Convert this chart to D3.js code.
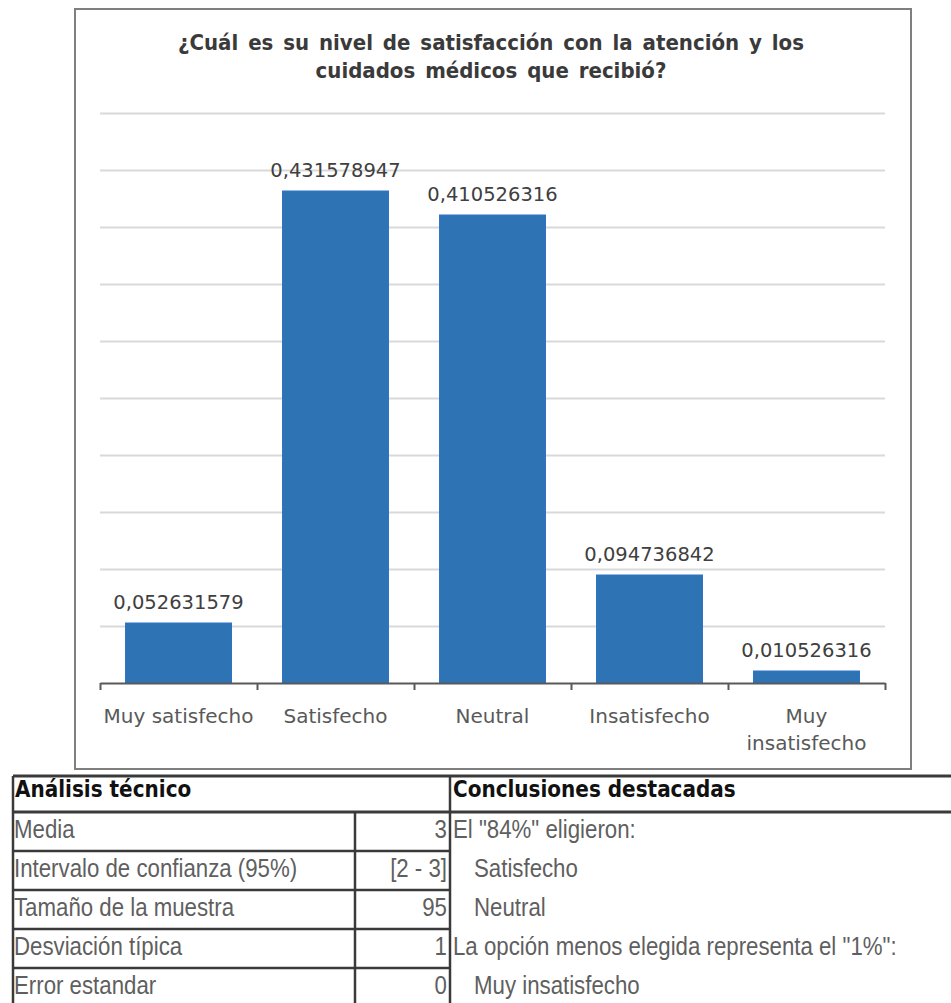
<!DOCTYPE html>
<html><head><meta charset="utf-8">
<script src="https://cdn.jsdelivr.net/npm/d3@7/dist/d3.min.js"></script>
<style>
html,body{margin:0;padding:0;background:#fff;}
svg{display:block;}
</style></head>
<body>
<svg id="c" width="951" height="1003"></svg>
<script>
// ---- data ----
const title = ["¿Cuál es su nivel de satisfacción con la atención y los", "cuidados médicos que recibió?"];
const categories = ["Muy satisfecho", "Satisfecho", "Neutral", "Insatisfecho", "Muy insatisfecho"];
const values = [0.052631579, 0.431578947, 0.410526316, 0.094736842, 0.010526316];
const yMax = 0.5;
const yStep = 0.05;

const techHeader = "Análisis técnico";
const techLabels = ["Media", "Intervalo de confianza (95%)", "Tamaño de la muestra", "Desviación típica", "Error estandar"];
const techValues = ["3", "[2 - 3]", "95", "1", "0"];
const conclHeader = "Conclusiones destacadas";
const conclLines = ["El \"84%\" eligieron:", "Satisfecho", "Neutral", "La opción menos elegida representa el \"1%\":", "Muy insatisfecho"];
const conclIndent = [false, true, true, false, true];

// ---- layout ----
const svg = d3.select("#c");
const plot = {left: 100, right: 885, top: 113, bottom: 683};

svg.append("rect").attr("x", 75).attr("y", 9).attr("width", 836).attr("height", 760)
  .attr("fill", "#fff").attr("stroke", "#7f7f7f").attr("stroke-width", 2);

const x = d3.scaleBand().domain(categories).range([plot.left, plot.right])
  .paddingInner(0.325).paddingOuter(0.1625);
const y = d3.scaleLinear().domain([0, yMax]).range([plot.bottom, plot.top]);

// title
const titleFont = "'DejaVu Sans Condensed', 'DejaVu Sans', sans-serif";
svg.append("g").selectAll("text").data(title).join("text")
  .attr("x", 491).attr("y", (d, i) => 50 + i * 28)
  .attr("text-anchor", "middle")
  .style("font-family", titleFont).style("font-stretch", "condensed")
  .style("font-weight", "bold").style("font-size", "22px").style("word-spacing", "3px")
  .attr("fill", "#3a3a3a").text(d => d);

// gridlines
const ticks = d3.range(1, Math.round(yMax / yStep) + 1).map(i => i * yStep);
svg.append("g").selectAll("line").data(ticks).join("line")
  .attr("x1", plot.left).attr("x2", plot.right)
  .attr("y1", d => Math.round(y(d)) + 0.5).attr("y2", d => Math.round(y(d)) + 0.5)
  .attr("stroke", "#d9d9d9").attr("stroke-width", 2);

// bars
svg.append("g").selectAll("rect").data(values).join("rect")
  .attr("x", (d, i) => x(categories[i]))
  .attr("width", x.bandwidth())
  .attr("y", d => y(d))
  .attr("height", d => y(0) - y(d))
  .attr("fill", "#2e74b5").attr("stroke", "#2f73c6").attr("stroke-width", 1);

// data labels
svg.append("g").selectAll("text").data(values).join("text")
  .attr("x", (d, i) => x(categories[i]) + x.bandwidth() / 2)
  .attr("y", d => y(d) - 14)
  .attr("text-anchor", "middle")
  .style("font-family", "'DejaVu Sans', sans-serif").style("font-size", "19.5px")
  .attr("fill", "#404040")
  .text(d => String(d).replace(".", ","));

// axis with boundary tick marks
const bx = d3.scaleLinear().domain([0, categories.length]).range([plot.left, plot.right]);
const axis = svg.append("g").attr("transform", `translate(0,${plot.bottom})`)
  .call(d3.axisBottom(bx).tickValues(d3.range(0, categories.length + 1)).tickFormat("").tickSize(7).tickSizeOuter(0));
axis.select(".domain").attr("stroke", "#595959").attr("stroke-width", 2);
axis.selectAll(".tick line").attr("stroke", "#595959").attr("stroke-width", 2);

// category labels (wrapped)
const catG = svg.append("g");
categories.forEach(c => {
  const t = catG.append("text").attr("text-anchor", "middle")
    .style("font-family", "'DejaVu Sans', sans-serif").style("font-size", "20px")
    .attr("fill", "#595959");
  const cx = x(c) + x.bandwidth() / 2;
  t.text(c);
  const w = t.node().getComputedTextLength();
  if (w > x.step()) {
    const words = c.split(" ");
    t.text(null);
    t.append("tspan").attr("x", cx).attr("y", 723).text(words[0]);
    t.append("tspan").attr("x", cx).attr("y", 750).text(words.slice(1).join(" "));
  } else {
    t.attr("x", cx).attr("y", 723);
  }
});

// ---- table ----
const tbl = svg.append("g");
const tLeft = 13, tMid = 355, tDiv = 450, tRight = 951;
const headTop = 776, headBot = 812, rowH = 39;
const rowTops = techLabels.map((d, i) => headBot + i * rowH);
const lineColor = "#3a3a3a";

tbl.append("rect").attr("x", tLeft).attr("y", headTop).attr("width", tRight - tLeft).attr("height", 1003 - headTop).attr("fill", "#fff");

tbl.selectAll("line.row").data(rowTops.slice(1)).join("line").attr("class", "row")
  .attr("x1", tLeft).attr("x2", tDiv).attr("y1", d => d).attr("y2", d => d)
  .attr("stroke", lineColor).attr("stroke-width", 2.5);
[headTop, headBot].forEach(yy => tbl.append("line").attr("x1", tLeft).attr("x2", tRight)
  .attr("y1", yy).attr("y2", yy).attr("stroke", lineColor).attr("stroke-width", 3));
tbl.append("line").attr("x1", tLeft).attr("x2", tLeft).attr("y1", headTop).attr("y2", 1003).attr("stroke", lineColor).attr("stroke-width", 2.5);
tbl.append("line").attr("x1", tMid).attr("x2", tMid).attr("y1", headBot).attr("y2", 1003).attr("stroke", lineColor).attr("stroke-width", 2.5);
tbl.append("line").attr("x1", tDiv).attr("x2", tDiv).attr("y1", headTop).attr("y2", 1003).attr("stroke", lineColor).attr("stroke-width", 2.5);

const bodyFont = "'Liberation Sans', Arial, sans-serif";
function cellText(g, txt, xx, yy, anchor, opts) {
  const gg = g.append("g").attr("transform", `translate(${xx},${yy}) scale(${opts.sx},1)`);
  gg.append("text").attr("text-anchor", anchor)
    .style("font-family", opts.font).style("font-size", opts.size + "px")
    .style("font-weight", opts.bold ? "bold" : "normal")
    .attr("fill", opts.color).text(txt);
}
const headOpts = {sx: 0.87, font: "'DejaVu Sans', sans-serif", size: 23, bold: true, color: "#111"};
cellText(tbl, techHeader, 15, 797, "start", headOpts);
cellText(tbl, conclHeader, 453, 797, "start", headOpts);

const bodyOpts = {sx: 0.89, font: bodyFont, size: 25, bold: false, color: "#5f5f5f"};
techLabels.forEach((d, i) => cellText(tbl, d, 14, rowTops[i] + 26, "start", bodyOpts));
techValues.forEach((d, i) => cellText(tbl, d, 447, rowTops[i] + 26, "end", bodyOpts));
conclLines.forEach((d, i) => cellText(tbl, d, conclIndent[i] ? 474 : 453, rowTops[i] + 26, "start", bodyOpts));
</script>
</body></html>
